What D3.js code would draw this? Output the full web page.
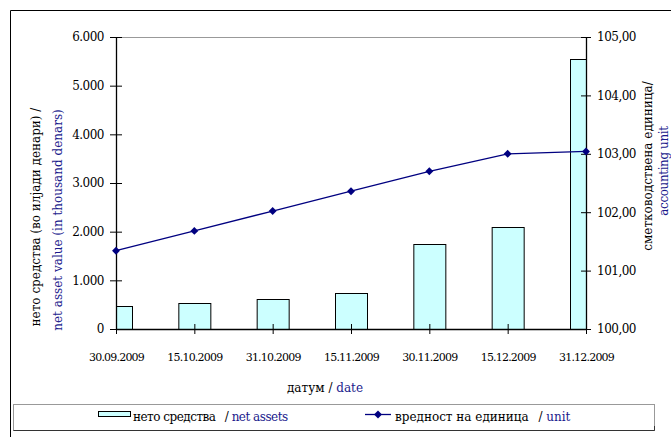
<!DOCTYPE html>
<html><head><meta charset="utf-8">
<script src="https://cdn.jsdelivr.net/npm/d3@7"></script>
<style>
body{margin:0;background:#fff;}
svg{display:block;}
svg text{font-family:"DejaVu Serif",serif;}
</style></head>
<body>
<svg id="c" width="671" height="437"></svg>
<script>
const dates = ["30.09.2009","15.10.2009","31.10.2009","15.11.2009","30.11.2009","15.12.2009","31.12.2009"];
const netAssets = [470, 525, 625, 750, 1755, 2105, 5550];
const unitValue = [101.34, 101.68, 102.02, 102.36, 102.70, 103.00, 103.04];
const leftTicks = [0, 1000, 2000, 3000, 4000, 5000, 6000];
const rightTicks = [100, 101, 102, 103, 104, 105];

const blue = "#1a1a8c";
const svg = d3.select("#c");
const L = 116, R = 586, T = 37, B = 329;

const x = d3.scalePoint().domain(dates).range([L, R]);
const y = d3.scaleLinear().domain([0, 6000]).range([B, T]);
const y2 = d3.scaleLinear().domain([100, 105]).range([B, T]);

svg.append("path").attr("d", `M10.5,437 V10.5 H671`).attr("fill","none").attr("stroke","#000").attr("stroke-width",1);
svg.append("line").attr("x1",L).attr("x2",R).attr("y1",T+0.5).attr("y2",T+0.5).attr("stroke","#999");
svg.append("clipPath").attr("id","pc").append("rect").attr("x",L).attr("y",T).attr("width",R-L).attr("height",B-T);

const bw = 32;
svg.append("g").attr("clip-path","url(#pc)").selectAll("rect").data(dates).join("rect")
  .attr("x", d => x(d) - bw/2 + 0.5)
  .attr("y", (d,i) => Math.round(y(netAssets[i])) + 0.5)
  .attr("width", bw)
  .attr("height", (d,i) => B - Math.round(y(netAssets[i])))
  .attr("fill", "#ccffff").attr("stroke", "#000").attr("stroke-width", 1);

const fmtL = d => d === 0 ? "0" : d3.format(",")(d).replace(/,/g, ".");
const fmtR = d => d3.format(".2f")(d).replace(".", ",");

const gl = svg.append("g").attr("transform", `translate(${L},0)`)
  .call(d3.axisLeft(y).tickValues(leftTicks).tickFormat(fmtL).tickSizeInner(6).tickSizeOuter(0).tickPadding(6));
gl.selectAll(".tick line").attr("x2", 6).attr("x1", -6);
const gr = svg.append("g").attr("transform", `translate(${R},0)`)
  .call(d3.axisRight(y2).tickValues(rightTicks).tickFormat(fmtR).tickSizeInner(5).tickSizeOuter(0).tickPadding(6));
gr.selectAll(".tick line").attr("x1", -5).attr("x2", 5);
const gb = svg.append("g").attr("transform", `translate(0,${B})`)
  .call(d3.axisBottom(x).tickSizeInner(5).tickSizeOuter(0).tickPadding(27));
gb.selectAll(".tick line").attr("y1", -5).attr("y2", 5);

[gl, gr, gb].forEach(g => {
  g.attr("font-family", null);
  g.select(".domain").attr("stroke", "#000").attr("stroke-width", 1.3);
  g.selectAll(".tick line").attr("stroke", "#000");
  g.selectAll("text").attr("fill", "#000");
});
gl.selectAll("text").attr("font-size", 12).attr("letter-spacing","-0.5px");
gr.selectAll("text").attr("font-size", 12).attr("letter-spacing","-0.5px");
gb.selectAll("text").attr("font-size", 11).attr("letter-spacing", "-0.8px").attr("dy", "0");

const line = d3.line().x((d,i) => x(dates[i])).y(d => y2(d));
svg.append("path").datum(unitValue).attr("d", line).attr("fill","none").attr("stroke","#000080").attr("stroke-width",1.3);
svg.append("g").selectAll("path").data(unitValue).join("path")
  .attr("transform", (d,i) => `translate(${x(dates[i])},${y2(d)})`)
  .attr("d", d3.symbol(d3.symbolDiamond2, 40)).attr("fill", "#000080");

svg.append("text").attr("font-size", 12).attr("text-anchor","middle")
  .attr("transform","translate(40,217) rotate(-90)").attr("fill","#000").text("нето средства (во илјади денари) /");
svg.append("text").attr("font-size", 12).attr("text-anchor","middle")
  .attr("transform","translate(62,220) rotate(-90)").attr("fill",blue).text("net asset value (in thousand denars)");
svg.append("text").attr("font-size", 12).attr("text-anchor","middle")
  .attr("transform","translate(652,166) rotate(-90)").attr("fill","#000").text("сметководствена единица/");
svg.append("text").attr("font-size", 12).attr("letter-spacing","-0.4px").attr("text-anchor","middle")
  .attr("transform","translate(668,171) rotate(-90)").attr("fill",blue).text("accounting unit");

const xt = svg.append("text").attr("x", 325).attr("y", 392).attr("font-size", 12).attr("text-anchor","middle");
xt.append("tspan").attr("fill","#000").text("датум / ");
xt.append("tspan").attr("fill",blue).text("date");

svg.append("rect").attr("x",13.5).attr("y",404.5).attr("width",641).attr("height",26).attr("fill","#fff").attr("stroke","#999");
svg.append("path").attr("d","M13.5,430.5 H654.5 V426").attr("fill","none").attr("stroke","#333");
svg.append("rect").attr("x",98.5).attr("y",411.5).attr("width",32).attr("height",5).attr("fill","#ccffff").attr("stroke","#000");
const l1 = svg.append("text").attr("x",133).attr("y",421).attr("font-size",12).attr("letter-spacing","-0.5px");
l1.append("tspan").attr("fill","#000").text("нето средства ");
l1.append("tspan").attr("fill","#000").attr("dx",6).text("/ ");
l1.append("tspan").attr("fill",blue).text("net assets");
svg.append("line").attr("x1",365).attr("x2",391).attr("y1",414.5).attr("y2",414.5).attr("stroke","#000080").attr("stroke-width",1.3);
svg.append("path").attr("transform","translate(378,414.5)").attr("d", d3.symbol(d3.symbolDiamond2, 40)).attr("fill","#000080");
const l2 = svg.append("text").attr("x",395).attr("y",421).attr("font-size",12);
l2.append("tspan").attr("fill","#000").text("вредност на единица ");
l2.append("tspan").attr("fill","#000").attr("dx",6).text("/ ");
l2.append("tspan").attr("fill",blue).text("unit");
</script>
</body></html>
